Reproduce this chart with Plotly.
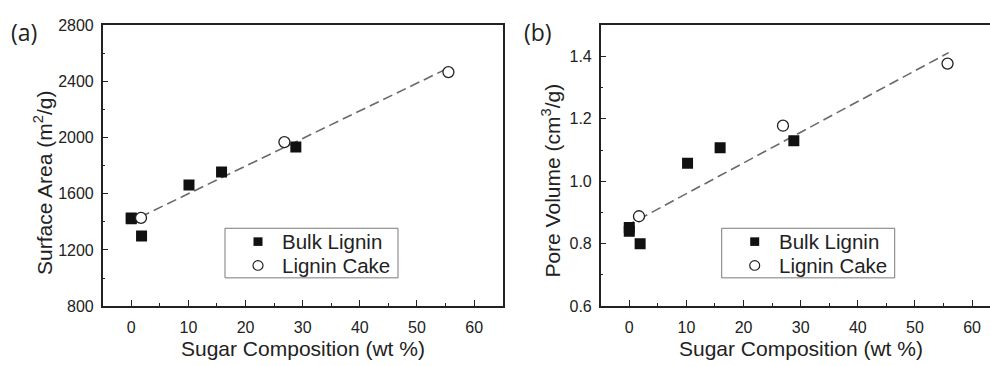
import plotly.graph_objects as go

# ---- data ----
a_bulk_x = [0, 0, 1.8, 10.1, 15.8, 28.8]
a_bulk_y = [1428, 1422, 1300, 1663, 1755, 1932]
a_cake_x = [1.7, 26.8, 55.5]
a_cake_y = [1428, 1968, 2466]
a_fit_x = [-0.8, 55.5]
a_fit_y = [1388, 2495]

b_bulk_x = [0, 0, 1.9, 10.2, 15.9, 28.8]
b_bulk_y = [0.852, 0.840, 0.800, 1.058, 1.107, 1.130]
b_cake_x = [1.7, 26.9, 55.7]
b_cake_y = [0.888, 1.178, 1.377]
b_fit_x = [-0.7, 55.9]
b_fit_y = [0.855, 1.412]

series_names = ["Bulk Lignin", "Lignin Cake"]
x_title = "Sugar Composition (wt %)"
y_titles = ["Surface Area (m<sup>2</sup>/g)", "Pore Volume (cm<sup>3</sup>/g)"]
panel_labels = ["(a)", "(b)"]

W, H = 990, 366
FONT = "Arial"
INK = "#222222"

fig = go.Figure()

def add_panel(fx, fy, bx, by, cx, cy, xa, ya):
    fig.add_trace(go.Scatter(x=fx, y=fy, mode="lines", xaxis=xa, yaxis=ya,
                             line=dict(color="#6a6a6a", width=1.6, dash="10px,5px"),
                             showlegend=False, hoverinfo="skip"))
    fig.add_trace(go.Scatter(x=bx, y=by, mode="markers", name=series_names[0],
                             xaxis=xa, yaxis=ya, showlegend=False,
                             marker=dict(symbol="square", size=11, color="#111111",
                                         line=dict(width=0))))
    fig.add_trace(go.Scatter(x=cx, y=cy, mode="markers", name=series_names[1],
                             xaxis=xa, yaxis=ya, showlegend=False,
                             marker=dict(symbol="circle", size=11, color="white",
                                         line=dict(width=1.3, color="#222222"))))

add_panel(a_fit_x, a_fit_y, a_bulk_x, a_bulk_y, a_cake_x, a_cake_y, "x", "y")
add_panel(b_fit_x, b_fit_y, b_bulk_x, b_bulk_y, b_cake_x, b_cake_y, "x2", "y2")

ydom = [(H - 312.7) / H, (H - 18) / H]
tickfont = dict(family=FONT, size=16, color=INK)

def xaxis(domain, rng):
    return dict(domain=domain, range=rng, showgrid=False, zeroline=False,
                showline=True, linecolor=INK, linewidth=1.5, mirror=True,
                ticks="inside", ticklen=6, tickwidth=1.3, tickcolor=INK,
                tick0=0, dtick=10, tickfont=tickfont, ticklabelstandoff=6,
                minor=dict(ticks="inside", ticklen=3, dtick=5, tick0=0,
                           tickcolor=INK, tickwidth=1.3))

def yaxis(rng, dtick, mdtick, mirror):
    return dict(domain=ydom, range=rng, showgrid=False, zeroline=False,
                showline=True, linecolor=INK, linewidth=1.5, mirror=mirror,
                ticks="inside", ticklen=6, tickwidth=1.3, tickcolor=INK,
                dtick=dtick, tickfont=tickfont, ticklabelstandoff=4,
                minor=dict(ticks="inside", ticklen=3, dtick=mdtick,
                           tickcolor=INK, tickwidth=1.3))

xa1 = xaxis([102.7 / W, 502.7 / W], [-5, 65]); xa1["anchor"] = "y"
xa2 = xaxis([600.7 / W, 1.0], [-5, (990 - 600.7) / 5.714 - 5]); xa2["anchor"] = "y2"
ya1 = yaxis([800, 2800], 400, 200, True); ya1["anchor"] = "x"; ya1["tick0"] = 800
ya2 = yaxis([0.6, 1.5], 0.2, 0.1, False); ya2["anchor"] = "x2"; ya2["tick0"] = 0.6
ya2["tickformat"] = ".1f"

fig.update_layout(
    width=W, height=H, margin=dict(l=0, r=0, t=0, b=0),
    paper_bgcolor="white", plot_bgcolor="white",
    xaxis=xa1, yaxis=ya1, xaxis2=xa2, yaxis2=ya2,
    showlegend=False,
)

def px(x):
    return x / W

def py(y):
    return (H - y) / H

title_font = dict(family=FONT, size=21, color=INK)
for cx, ycx, yt, lx in [(302.7, 43, y_titles[0], 24), (800.5, 551, y_titles[1], 538)]:
    fig.add_annotation(text=x_title, x=px(cx), y=py(357), xref="paper", yref="paper",
                       showarrow=False, xanchor="center", yanchor="middle", font=title_font)
for (ycx, ycy, yt) in [(43, 183.5, y_titles[0]), (551, 181, y_titles[1])]:
    fig.add_annotation(text=yt, x=px(ycx), y=py(ycy), xref="paper", yref="paper",
                       textangle=-90, showarrow=False, xanchor="center", yanchor="middle",
                       font=title_font)
for txt, x in zip(panel_labels, [24, 538]):
    fig.add_annotation(text=txt, xref="paper", yref="paper", x=px(x), y=py(25),
                       showarrow=False, xanchor="center", yanchor="middle",
                       font=dict(family="Open Sans", size=23, color=INK))

# manual legends (box, symbols, labels) in paper coordinates
for off in [0, 496.7]:
    x0 = 225 + off
    fig.add_shape(type="rect", xref="paper", yref="paper", layer="above",
                  x0=px(x0), x1=px(x0 + 173), y0=py(283), y1=py(231),
                  line=dict(color="#7a7a7a", width=1), fillcolor="white")
    fig.add_shape(type="rect", xref="paper", yref="paper", layer="above",
                  x0=px(x0 + 33 - 4.5), x1=px(x0 + 33 + 4.5),
                  y0=py(245 + 4.5), y1=py(245 - 4.5),
                  line=dict(width=0), fillcolor="#111111")
    fig.add_shape(type="circle", xref="paper", yref="paper", layer="above",
                  x0=px(x0 + 33 - 5), x1=px(x0 + 33 + 5),
                  y0=py(270 + 5), y1=py(270 - 5),
                  line=dict(width=1.2, color="#222222"), fillcolor="white")
    for name, yc in zip(series_names, [245, 270]):
        fig.add_annotation(text=name, xref="paper", yref="paper", x=px(x0 + 55), y=py(yc),
                           showarrow=False, xanchor="left", yanchor="middle",
                           font=dict(family=FONT, size=20.5, color=INK))

fig.write_html("out.html")
